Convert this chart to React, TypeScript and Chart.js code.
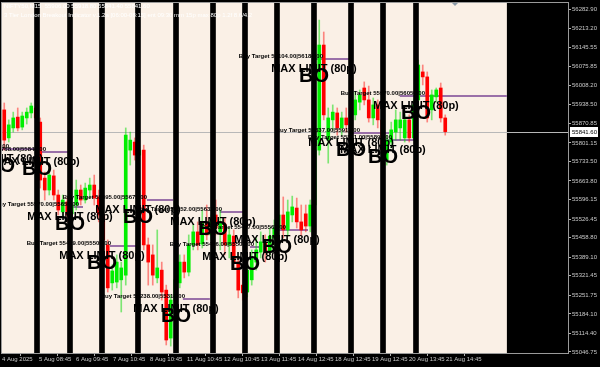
import React, { useEffect, useRef } from "react";
import { Chart, registerables } from "chart.js";

Chart.register(...registerables);

const titleLine1 = "NIFTY50,M15  55906.00 55918.80 55841.40 55841.60";
const titleLine2 = "3 Tier London Breakout Indicator v.1.2a [06:00-08:15] ent 09:30 mm 15p max 80p 1.2f 8.6/4.2";

// OHLC candles (M15), one per slot
const opens = [
  55920, 55819, 55855, 55894, 55858, 55891, 55909, 55927, 55876, 55674,
  55631, 55682, 55613, 55552, 55588, 55545, 55577, 55631, 55595, 55631,
  55649, 55606, 55541, 55433, 55296, 55299, 55307, 55324, 55775, 55804,
  55757, 55775, 55433, 55397, 55314, 55342, 55270, 55097, 55234, 55296,
  55371, 55335, 55433, 55480, 55436, 55516, 55469, 55541, 55480, 55508,
  55433, 55465, 55371, 55288, 55263, 55307, 55371, 55407, 55440, 55407,
  55458, 55494, 55541, 55487, 55541, 55566, 55516, 55545, 55501, 55577,
  55775, 56154, 55811, 55884, 55909, 55855, 55891, 55866, 55902, 55948,
  55999, 55956, 55891, 55938, 55884, 55739, 55804, 55840, 55855, 55819,
  55884, 55819, 55956, 56057, 56039, 55920, 55967, 55999, 55891,
];
const highs = [
  55945, 55884, 55912, 55927, 55912, 55927, 55945, 55938, 55891, 55696,
  55710, 55703, 55631, 55613, 55602, 55595, 55667, 55649, 55656, 55674,
  55685, 55631, 55559, 55451, 55361, 55397, 55371, 55855, 55840, 55819,
  55793, 55793, 55458, 55433, 55487, 55371, 55288, 55252, 55324, 55397,
  55397, 55469, 55505, 55516, 55559, 55577, 55541, 55595, 55559, 55530,
  55494, 55487, 55386, 55342, 55361, 55415, 55458, 55480, 55469, 55494,
  55523, 55595, 55606, 55595, 55609, 55602, 55577, 55577, 55595, 55811,
  56244, 56201, 55927, 55938, 55927, 55912, 55927, 55956, 55985, 55992,
  56021, 56006, 55963, 55956, 55902, 55829, 55876, 55920, 55912, 55902,
  55902, 55956, 56100, 56082, 56057, 55992, 55999, 56017, 55902,
];
const lows = [
  55775, 55804, 55840, 55844, 55848, 55869, 55891, 55876, 55638, 55595,
  55613, 55595, 55541, 55530, 55516, 55523, 55559, 55577, 55584, 55602,
  55577, 55516, 55433, 55263, 55270, 55278, 55191, 55288, 55721, 55739,
  55732, 55415, 55288, 55288, 55296, 55234, 55072, 55068, 55216, 55278,
  55314, 55321, 55415, 55415, 55422, 55451, 55451, 55469, 55415, 55397,
  55386, 55350, 55242, 55234, 55245, 55288, 55342, 55386, 55371, 55393,
  55422, 55469, 55458, 55465, 55516, 55494, 55465, 55480, 55480, 55559,
  55757, 55884, 55728, 55848, 55829, 55829, 55840, 55848, 55884, 55920,
  55938, 55876, 55866, 55855, 55696, 55721, 55783, 55811, 55811, 55804,
  55804, 55811, 55938, 56010, 55876, 55884, 55948, 55876, 55829,
];
const closes = [
  55811, 55866, 55891, 55855, 55898, 55912, 55934, 55891, 55667, 55631,
  55685, 55613, 55559, 55595, 55541, 55577, 55631, 55595, 55638, 55649,
  55602, 55541, 55451, 55278, 55339, 55371, 55350, 55829, 55811, 55757,
  55775, 55433, 55371, 55324, 55350, 55263, 55090, 55234, 55307, 55371,
  55335, 55433, 55480, 55433, 55516, 55469, 55523, 55494, 55516, 55433,
  55469, 55371, 55270, 55260, 55342, 55386, 55415, 55444, 55407, 55465,
  55494, 55541, 55487, 55552, 55570, 55516, 55487, 55501, 55577, 55775,
  56154, 55902, 55891, 55912, 55855, 55891, 55866, 55912, 55956, 55974,
  55956, 55891, 55938, 55884, 55775, 55811, 55848, 55884, 55884, 55884,
  55819, 55938, 56082, 56039, 55891, 55974, 55992, 55891, 55841.6,
];

// session start vertical lines (slot positions)
const sessionStarts = [7.78, 15.11, 22.22, 30.22, 38.67, 46.89, 54.0, 61.11, 69.33, 77.56, 84.67, 92.0];

// x axis ticks
const xTickValues = [0, 8.22, 16.44, 24.67, 32.89, 41.11, 49.33, 57.56, 65.78, 74.0, 82.22, 90.44, 98.67];
const xTickLabels = [
  "4 Aug 2025", "5 Aug 08:45", "6 Aug 09:45", "7 Aug 10:45", "8 Aug 10:45",
  "11 Aug 10:45", "12 Aug 10:45", "13 Aug 11:45", "14 Aug 12:45", "18 Aug 12:45",
  "19 Aug 12:45", "20 Aug 13:45", "21 Aug 14:45",
];

// y axis ticks
const yTickValues = [
  56282.9, 56213.2, 56145.55, 56075.85, 56008.2, 55938.5, 55870.85, 55801.15,
  55733.5, 55663.8, 55596.15, 55526.45, 55458.8, 55389.1, 55321.45, 55251.75,
  55184.1, 55114.4, 55046.75,
];

// breakout signals
const signalX = [-0.44, 7.78, 15.11, 22.22, 30.22, 38.67, 46.89, 54.0, 61.11, 69.33, 77.56, 84.67, 92.0];
const signalPrice = [55779, 55768, 55570, 55429, 55595, 55238, 55552, 55426, 55487, 56104, 55837, 55811, 55970];
const signalLineStart = [-0.44, 7.78, 15.11, 24.0, 32.2, 40.2, 48.4, 55.1, 61.11, 69.1, 78.0, 84.67, 88.4];
const signalLineEnd = [7.78, 14.7, 18.0, 30.0, 38.0, 46.2, 53.6, 57.8, 68.0, 77.3, 86.0, 92.0, 112.2];

const lastPrice = 55841.6;
const chartDataEnd = 112.2;
const X_MIN = 0;
const X_MAX = 125.78;
const Y_MIN = 55043.1;
const Y_MAX = 56305.6;

const FONT = '"Liberation Sans", Arial, sans-serif';

export default function App() {
  const ref = useRef<HTMLCanvasElement | null>(null);

  useEffect(() => {
    document.body.style.margin = "0";
    const canvas = ref.current;
    if (!canvas) return;

    const isBull = opens.map((o, i) => closes[i] >= o);

    const overlay = {
      id: "overlay",
      beforeDraw(chart: any) {
        const { ctx, chartArea: a, scales } = chart;
        const x = scales.x;
        ctx.save();
        ctx.fillStyle = "#000";
        ctx.fillRect(0, 0, chart.width, chart.height);
        const xe = x.getPixelForValue(chartDataEnd);
        ctx.fillStyle = "#FAF0E6";
        ctx.fillRect(a.left, a.top, xe - a.left, a.bottom - a.top);
        ctx.restore();
      },
      beforeDatasetsDraw(chart: any) {
        const { ctx, chartArea: a, scales } = chart;
        const x = scales.x;
        const y = scales.y;
        ctx.save();
        ctx.beginPath();
        ctx.rect(a.left, a.top, a.right - a.left, a.bottom - a.top);
        ctx.clip();
        const py = Math.round(y.getPixelForValue(lastPrice)) + 0.5;
        ctx.strokeStyle = "#b8b8b8";
        ctx.lineWidth = 1;
        ctx.beginPath();
        ctx.moveTo(a.left, py);
        ctx.lineTo(a.right, py);
        ctx.stroke();
        ctx.strokeStyle = "#9a70a8";
        ctx.lineWidth = 2;
        for (let i = 0; i < signalX.length; i++) {
          const ly = Math.round(y.getPixelForValue(signalPrice[i]));
          ctx.beginPath();
          ctx.moveTo(x.getPixelForValue(signalLineStart[i]), ly);
          ctx.lineTo(x.getPixelForValue(signalLineEnd[i]), ly);
          ctx.stroke();
        }
        ctx.restore();
      },
      afterDatasetsDraw(chart: any) {
        const { ctx, chartArea: a, scales } = chart;
        const x = scales.x;
        const y = scales.y;
        ctx.save();
        ctx.beginPath();
        ctx.rect(a.left, a.top, a.right - a.left, a.bottom - a.top);
        ctx.clip();
        ctx.fillStyle = "#000";
        ctx.textBaseline = "alphabetic";
        for (let i = 0; i < signalX.length; i++) {
          const px = x.getPixelForValue(signalX[i]);
          const ly = y.getPixelForValue(signalPrice[i]);
          ctx.font = `bold 6px ${FONT}`;
          ctx.textAlign = "right";
          const p = signalPrice[i];
          ctx.fillText(`Buy Target ${p.toFixed(2)}|${(p + 80).toFixed(2)}`, px + 9, ly - 1);
          ctx.font = `bold 11px ${FONT}`;
          ctx.textAlign = "center";
          ctx.fillText("MAX LIMIT (80p)", px, ly + 13);
          ctx.font = `bold 20px ${FONT}`;
          ctx.fillText("BO", px, ly + 23);
        }
        ctx.restore();

        ctx.save();
        // frame
        ctx.strokeStyle = "#9a9a9a";
        ctx.lineWidth = 1;
        ctx.strokeRect(a.left - 0.5, a.top - 0.5, a.right - a.left + 1, a.bottom - a.top + 1);
        // title
        ctx.fillStyle = "#ffffff";
        ctx.font = `6px ${FONT}`;
        ctx.textAlign = "left";
        ctx.textBaseline = "middle";
        ctx.fillText(titleLine1, 4, 6);
        ctx.fillText(titleLine2, 4, 15);
        // chart shift marker
        ctx.fillStyle = "#8a9aa8";
        ctx.beginPath();
        ctx.moveTo(452, a.top);
        ctx.lineTo(458, a.top);
        ctx.lineTo(455, a.top + 3);
        ctx.closePath();
        ctx.fill();
        // last price box
        const py = Math.round(y.getPixelForValue(lastPrice));
        ctx.fillStyle = "#ffffff";
        ctx.fillRect(a.right + 2, py - 5, 28, 10);
        ctx.fillStyle = "#000";
        ctx.font = `6px ${FONT}`;
        ctx.textAlign = "left";
        ctx.fillText(lastPrice.toFixed(2), a.right + 4, py + 0.5);
        ctx.restore();
      },
    };

    const chart = new Chart(canvas, {
      type: "bar",
      data: {
        datasets: [
          {
            label: "sessions",
            data: sessionStarts.map((s) => ({ x: s, y: [Y_MIN, Y_MAX] })) as any,
            backgroundColor: "#000000",
            barThickness: 5,
            grouped: false,
            borderWidth: 0,
            order: 0,
          } as any,
          {
            label: "bodies",
            data: opens.map((o, i) => ({ x: i + 0.5, y: [o, closes[i]] })) as any,
            backgroundColor: isBull.map((b) => (b ? "#00ee00" : "#ff0000")),
            barThickness: 3,
            minBarLength: 1,
            grouped: false,
            borderWidth: 0,
            order: 1,
          } as any,
          {
            label: "wicks",
            data: opens.map((_, i) => ({ x: i + 0.5, y: [lows[i], highs[i]] })) as any,
            backgroundColor: isBull.map((b) => (b ? "rgba(0,220,0,0.5)" : "rgba(255,0,0,0.45)")),
            barThickness: 1,
            grouped: false,
            borderWidth: 0,
            order: 2,
          } as any,
        ],
      },
      options: {
        animation: false,
        responsive: false,
        maintainAspectRatio: false,
        events: [],
        layout: { padding: { left: 2, top: 3, right: 0, bottom: 0 } },
        plugins: { legend: { display: false }, tooltip: { enabled: false } },
        scales: {
          x: {
            type: "linear",
            min: X_MIN,
            max: X_MAX,
            offset: false,
            grid: {
              display: true,
              drawOnChartArea: false,
              drawTicks: true,
              tickLength: 3,
              tickColor: "#b0b0b0",
            },
            border: { display: false },
            ticks: {
              autoSkip: false,
              maxRotation: 0,
              minRotation: 0,
              align: "start",
              padding: 0,
              color: "#c8c8c8",
              font: { size: 6, family: FONT },
              callback: (_v: any, i: number) => xTickLabels[i] ?? "",
            },
            afterBuildTicks: (s: any) => {
              s.ticks = xTickValues.map((v) => ({ value: v }));
            },
            afterFit: (s: any) => {
              s.height = 14;
              s.paddingLeft = 0;
              s.paddingRight = 0;
            },
          } as any,
          y: {
            type: "linear",
            position: "right",
            min: Y_MIN,
            max: Y_MAX,
            grid: {
              display: true,
              drawOnChartArea: false,
              drawTicks: true,
              tickLength: 3,
              tickColor: "#b0b0b0",
            },
            border: { display: false },
            ticks: {
              autoSkip: false,
              crossAlign: "near",
              padding: 1,
              color: "#c8c8c8",
              font: { size: 6, family: FONT },
              callback: (v: any) => Number(v).toFixed(2),
            },
            afterBuildTicks: (s: any) => {
              s.ticks = yTickValues.map((v) => ({ value: v }));
            },
            afterFit: (s: any) => {
              s.width = 32;
              s.paddingTop = 0;
              s.paddingBottom = 0;
            },
          } as any,
        },
      },
      plugins: [overlay],
    });

    return () => chart.destroy();
  }, []);

  return (
    <div style={{ width: 600, height: 367, background: "#000" }}>
      <canvas ref={ref} width={600} height={367} style={{ display: "block" }} />
    </div>
  );
}
